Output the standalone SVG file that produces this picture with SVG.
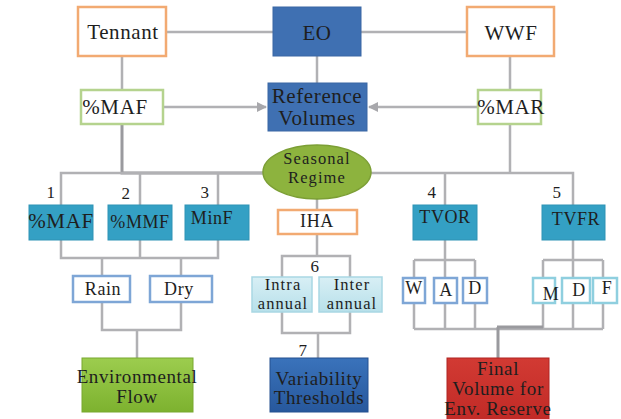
<svg xmlns="http://www.w3.org/2000/svg" width="621" height="419" viewBox="0 0 621 419">
<style>
text{font-family:"Liberation Serif","Times New Roman",serif;fill:#1e1e1e;text-anchor:middle;letter-spacing:0.6px}
.c{fill:none;stroke:#b1b1b4;stroke-width:2.5}
.cd{fill:none;stroke:#9a9a9e;stroke-width:3}
.ow{fill:#fff;stroke:#f2aa72;stroke-width:2.5}
.gw{fill:#fff;stroke:#b5d38e;stroke-width:2.5}
.bl{fill:#3f70b2;stroke:#3a67a4;stroke-width:1}
.tl{fill:#34a0c4;stroke:#2f93b5;stroke-width:1}
.bw{fill:#fff;stroke:#7ea6d6;stroke-width:2.5}
.cw{fill:#fff;stroke:#8fcfdf;stroke-width:2.5}
.lc{fill:url(#lcg);stroke:#a9d7e3;stroke-width:1.5}
.t21{font-size:21px}
.t19{font-size:19px}
.t18{font-size:18px}
.t17{font-size:16.5px;letter-spacing:1.1px}
.n{font-size:17px}
</style>
<defs>
<marker id="ah" viewBox="0 0 10 10" refX="9" refY="5" markerWidth="4" markerHeight="4" orient="auto-start-reverse">
<path d="M0,0 L10,5 L0,10 z" fill="#a8a8ac"/>
</marker>
<linearGradient id="lcg" x1="0" y1="0" x2="0" y2="1"><stop offset="0" stop-color="#d8eff5"/><stop offset="1" stop-color="#b7e0ea"/></linearGradient>
<linearGradient id="efg" x1="0" y1="0" x2="0" y2="1"><stop offset="0" stop-color="#9ccd4e"/><stop offset="1" stop-color="#7db22f"/></linearGradient>
<linearGradient id="vtg" x1="0" y1="0" x2="0" y2="1"><stop offset="0" stop-color="#3a73bb"/><stop offset="1" stop-color="#27589c"/></linearGradient>
<linearGradient id="fvg" x1="0" y1="0" x2="0" y2="1"><stop offset="0" stop-color="#d23a33"/><stop offset="1" stop-color="#c02a26"/></linearGradient>
</defs>

<g id="connectors">
<path class="c" d="M166,32 H273 M361,32 H467"/>
<path class="c" d="M317,56 V83"/>
<path class="c" d="M122,56 V90 M510,56 V90"/>
<path class="c" d="M163,107 H266" marker-end="url(#ah)"/>
<path class="c" d="M478,107 H369" marker-end="url(#ah)"/>
<path class="cd" d="M122,124 V173 H263"/>
<path class="c" d="M510,124 V173"/>
<path class="c" d="M61,205 V173 H263 M140,173 V205 M218,173 V205"/>
<path class="c" d="M371,173 H573 V205 M445,173 V205"/>
<path class="c" d="M61,240 V258 H218 V240 M140,240 V258"/>
<path class="c" d="M102,258 V276 M181,258 V276"/>
<path class="c" d="M102,302 V330 H181 V302 M137,330 V358"/>
<path class="c" d="M317,199 V210 M317,234 V256 M282,277 V256 H350 V277"/>
<path class="c" d="M282,312 V333 H350 V312 M318,333 V358"/>
<path class="c" d="M445,240 V260 M414,260 H475 M414,260 V329 M445,260 V329 M475,260 V329"/>
<path class="c" d="M573,240 V260 M543,260 H603 M543,260 V329 M573,260 V329 M603,260 V329"/>
<path class="c" d="M414,329 H603"/>
<path class="cd" d="M497,327 H543 M498,327 V358"/>
</g>

<g id="tennant"><rect class="ow" x="78" y="7" width="88" height="49"/><text class="t21" x="123" y="39">Tennant</text></g>
<g id="eo"><rect class="bl" x="273" y="7" width="88" height="49"/><text class="t21" x="317" y="40">EO</text></g>
<g id="wwf"><rect class="ow" x="467" y="7" width="87" height="49"/><text class="t21" x="511" y="40">WWF</text></g>

<g id="maf-top"><rect class="gw" x="81" y="90" width="82" height="34"/><text class="t21" x="115" y="114">%MAF</text></g>
<g id="reference-volumes"><rect class="bl" x="268" y="83" width="99" height="48"/><text class="t21" x="317" y="103">Reference</text><text class="t21" x="317" y="125">Volumes</text></g>
<g id="mar"><rect class="gw" x="478" y="90" width="63" height="34"/><text class="t21" x="511" y="114">%MAR</text></g>

<g id="seasonal-regime"><ellipse cx="317" cy="172" rx="54" ry="27" fill="#8db33e" stroke="#7c9f35" stroke-width="1.5"/><text class="t17" x="317" y="164">Seasonal</text><text class="t17" x="317" y="183">Regime</text></g>

<g id="n1"><text class="n" x="51" y="198">1</text><rect class="tl" x="29" y="205" width="64" height="35"/><text class="t21" x="61" y="228">%MAF</text></g>
<g id="n2"><text class="n" x="126" y="199">2</text><rect class="tl" x="108" y="205" width="64" height="35"/><text class="t18" x="140" y="228">%MMF</text></g>
<g id="n3"><text class="n" x="205" y="198">3</text><rect class="tl" x="185" y="205" width="64" height="35"/><text class="t18" x="212" y="224">MinF</text></g>

<g id="iha"><rect class="ow" x="278" y="210" width="79" height="24"/><text class="t18" x="317" y="227">IHA</text></g>

<g id="n4"><text class="n" x="432" y="198">4</text><rect class="tl" x="413" y="205" width="64" height="35"/><text class="t18" x="445" y="223">TVOR</text></g>
<g id="n5"><text class="n" x="557" y="198">5</text><rect class="tl" x="542" y="205" width="63" height="35"/><text class="t18" x="576" y="225">TVFR</text></g>

<g id="rain"><rect class="bw" x="73" y="276" width="57" height="26"/><text class="t18" x="103" y="295">Rain</text></g>
<g id="dry"><rect class="bw" x="150" y="276" width="62" height="26"/><text class="t18" x="179" y="295">Dry</text></g>

<g id="n6"><text class="n" x="315" y="272">6</text></g>
<g id="intra"><rect class="lc" x="252" y="277" width="60" height="35"/><text class="t17" x="283" y="290">Intra</text><text class="t17" x="283" y="309">annual</text></g>
<g id="inter"><rect class="lc" x="319" y="277" width="63" height="35"/><text class="t17" x="352" y="290">Inter</text><text class="t17" x="352" y="309">annual</text></g>

<g id="w"><rect class="bw" x="403" y="278" width="22" height="25"/><text class="t18" x="414" y="294">W</text></g>
<g id="a"><rect class="bw" x="434" y="278" width="23" height="25"/><text class="t18" x="446" y="296">A</text></g>
<g id="d1"><rect class="bw" x="463" y="278" width="24" height="25"/><text class="t18" x="475" y="294">D</text></g>
<g id="m"><rect class="cw" x="533" y="278" width="22" height="25"/><text class="t18" x="551" y="300">M</text></g>
<g id="d2"><rect class="cw" x="562" y="278" width="28" height="25"/><text class="t18" x="579" y="296">D</text></g>
<g id="f"><rect class="cw" x="593" y="278" width="24" height="25"/><text class="t18" x="607" y="294">F</text></g>

<g id="environmental-flow"><rect x="82" y="358" width="111" height="54" fill="url(#efg)" stroke="#78a82f" stroke-width="1"/><text class="t19" x="137" y="383">Environmental</text><text class="t19" x="137" y="403">Flow</text></g>
<g id="n7"><text class="n" x="303" y="356">7</text></g>
<g id="variability-thresholds"><rect x="270" y="358" width="98" height="54" fill="url(#vtg)" stroke="#255090" stroke-width="1"/><text class="t19" x="319" y="385">Variability</text><text class="t19" x="319" y="404">Thresholds</text></g>
<g id="final-volume"><rect x="447" y="358" width="102" height="64" fill="url(#fvg)" stroke="#b02522" stroke-width="1"/><text class="t19" x="498" y="375">Final</text><text class="t19" x="498" y="395">Volume for</text><text class="t19" x="498" y="415">Env. Reserve</text></g>
</svg>
